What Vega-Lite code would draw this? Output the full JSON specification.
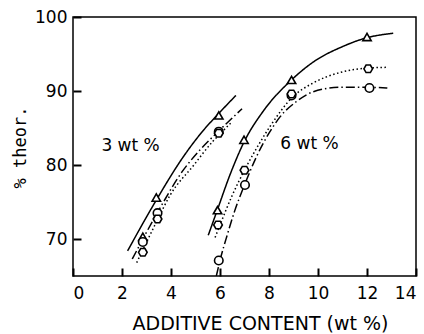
{
  "$schema": "https://vega.github.io/schema/vega-lite/v6.json",
  "width": 343,
  "height": 259,
  "autosize": "none",
  "padding": {"left": 73, "top": 17, "right": 8, "bottom": 58},
  "background": "white",
  "config": {
    "view": {"stroke": "black", "strokeWidth": 1.5},
    "axis": {
      "domain": false,
      "grid": false,
      "labelColor": "black",
      "titleColor": "black",
      "labelFont": "DejaVu Sans",
      "titleFont": "DejaVu Sans",
      "labelFontSize": 17,
      "titleFontWeight": "normal"
    }
  },
  "layer": [
    {
      "data": {
        "values": [
          {"curve": "L-tri", "series": "tri", "x": 2.23, "y": 68.4},
          {"curve": "L-tri", "series": "tri", "x": 2.85, "y": 72.1},
          {"curve": "L-tri", "series": "tri", "x": 3.39, "y": 75.2},
          {"curve": "L-tri", "series": "tri", "x": 4.5, "y": 81.1},
          {"curve": "L-tri", "series": "tri", "x": 5.3, "y": 84.6},
          {"curve": "L-tri", "series": "tri", "x": 5.93, "y": 86.9},
          {"curve": "L-tri", "series": "tri", "x": 6.65, "y": 89.4},
          {"curve": "L-circ", "series": "circ", "x": 2.42, "y": 67.3},
          {"curve": "L-circ", "series": "circ", "x": 3.4, "y": 73.3},
          {"curve": "L-circ", "series": "circ", "x": 4.5, "y": 79.3},
          {"curve": "L-circ", "series": "circ", "x": 5.2, "y": 82.1},
          {"curve": "L-circ", "series": "circ", "x": 5.95, "y": 84.6},
          {"curve": "L-circ", "series": "circ", "x": 6.9, "y": 87.6},
          {"curve": "L-hex", "series": "hex", "x": 2.6, "y": 66.8},
          {"curve": "L-hex", "series": "hex", "x": 3.45, "y": 72.6},
          {"curve": "L-hex", "series": "hex", "x": 3.96, "y": 75.9},
          {"curve": "L-hex", "series": "hex", "x": 4.91, "y": 79.9},
          {"curve": "L-hex", "series": "hex", "x": 5.71, "y": 83.2},
          {"curve": "L-hex", "series": "hex", "x": 6.0, "y": 84.2},
          {"curve": "L-hex", "series": "hex", "x": 6.45, "y": 85.7},
          {"curve": "R-tri", "series": "tri", "x": 5.52, "y": 70.5},
          {"curve": "R-tri", "series": "tri", "x": 5.9, "y": 74.0},
          {"curve": "R-tri", "series": "tri", "x": 6.41, "y": 78.7},
          {"curve": "R-tri", "series": "tri", "x": 6.98, "y": 83.1},
          {"curve": "R-tri", "series": "tri", "x": 7.77, "y": 87.3},
          {"curve": "R-tri", "series": "tri", "x": 8.92, "y": 91.5},
          {"curve": "R-tri", "series": "tri", "x": 9.8, "y": 93.9},
          {"curve": "R-tri", "series": "tri", "x": 11.0, "y": 96.0},
          {"curve": "R-tri", "series": "tri", "x": 12.0, "y": 97.2},
          {"curve": "R-tri", "series": "tri", "x": 13.07, "y": 97.8},
          {"curve": "R-hex", "series": "hex", "x": 5.8, "y": 70.2},
          {"curve": "R-hex", "series": "hex", "x": 6.0, "y": 71.9},
          {"curve": "R-hex", "series": "hex", "x": 6.5, "y": 75.9},
          {"curve": "R-hex", "series": "hex", "x": 7.0, "y": 79.3},
          {"curve": "R-hex", "series": "hex", "x": 7.5, "y": 82.3},
          {"curve": "R-hex", "series": "hex", "x": 8.04, "y": 85.2},
          {"curve": "R-hex", "series": "hex", "x": 9.0, "y": 89.3},
          {"curve": "R-hex", "series": "hex", "x": 9.81, "y": 91.1},
          {"curve": "R-hex", "series": "hex", "x": 10.9, "y": 92.5},
          {"curve": "R-hex", "series": "hex", "x": 12.0, "y": 93.1},
          {"curve": "R-hex", "series": "hex", "x": 12.87, "y": 93.2},
          {"curve": "R-circ", "series": "circ", "x": 5.85, "y": 65.0},
          {"curve": "R-circ", "series": "circ", "x": 6.0, "y": 67.1},
          {"curve": "R-circ", "series": "circ", "x": 6.3, "y": 70.6},
          {"curve": "R-circ", "series": "circ", "x": 6.6, "y": 73.8},
          {"curve": "R-circ", "series": "circ", "x": 7.0, "y": 77.3},
          {"curve": "R-circ", "series": "circ", "x": 7.5, "y": 81.2},
          {"curve": "R-circ", "series": "circ", "x": 8.0, "y": 84.3},
          {"curve": "R-circ", "series": "circ", "x": 8.45, "y": 86.5},
          {"curve": "R-circ", "series": "circ", "x": 9.13, "y": 88.6},
          {"curve": "R-circ", "series": "circ", "x": 9.81, "y": 89.9},
          {"curve": "R-circ", "series": "circ", "x": 10.9, "y": 90.5},
          {"curve": "R-circ", "series": "circ", "x": 12.0, "y": 90.5},
          {"curve": "R-circ", "series": "circ", "x": 12.83, "y": 90.4}
        ]
      },
      "mark": {"type": "line", "interpolate": "monotone", "color": "black", "strokeWidth": 1.5, "clip": true},
      "encoding": {
        "x": {
          "field": "x", "type": "quantitative",
          "scale": {"domain": [0, 14], "nice": false},
          "axis": {
            "orient": "bottom",
            "values": [0, 2, 4, 6, 8, 10, 12, 14],
            "ticks": true,
            "tickColor": "black",
            "tickSize": -8,
            "tickWidth": 2,
            "labelPadding": 17,
            "title": "ADDITIVE CONTENT (wt %)",
            "titleFontSize": 19,
            "titleX": 187,
            "titleY": 47,
            "titleBaseline": "middle",
            "titleAlign": "center"
          }
        },
        "y": {
          "field": "y", "type": "quantitative",
          "scale": {"domain": [65, 100], "nice": false, "zero": false},
          "axis": {
            "orient": "left",
            "values": [70, 80, 90, 100],
            "ticks": true,
            "tickColor": "black",
            "tickSize": -8,
            "tickWidth": 2,
            "labelPadding": 14,
            "title": "% theor.",
            "titleFont": "DejaVu Sans Mono",
            "titleFontSize": 17,
            "titleX": -53,
            "titleY": 130,
            "titleAngle": 270,
            "titleBaseline": "middle",
            "titleAlign": "center"
          }
        },
        "detail": {"field": "curve"},
        "strokeDash": {
          "field": "series", "type": "nominal",
          "scale": {"domain": ["tri", "circ", "hex"], "range": [[1, 0], [9, 3, 1.5, 3], [1.5, 2.5]]},
          "legend": null
        }
      }
    },
    {
      "data": {
        "values": [
          {"series": "tri", "x": 2.85, "y": 70.3},
          {"series": "tri", "x": 3.4, "y": 75.6},
          {"series": "tri", "x": 5.95, "y": 86.7},
          {"series": "tri", "x": 5.9, "y": 73.9},
          {"series": "tri", "x": 6.98, "y": 83.4},
          {"series": "tri", "x": 8.92, "y": 91.5},
          {"series": "tri", "x": 12.0, "y": 97.3},
          {"series": "circ", "x": 2.85, "y": 69.6},
          {"series": "circ", "x": 3.45, "y": 73.5},
          {"series": "circ", "x": 5.95, "y": 84.5},
          {"series": "circ", "x": 5.95, "y": 67.1},
          {"series": "circ", "x": 7.02, "y": 77.3},
          {"series": "circ", "x": 8.92, "y": 89.4},
          {"series": "circ", "x": 12.1, "y": 90.4},
          {"series": "hex", "x": 2.85, "y": 68.2},
          {"series": "hex", "x": 3.45, "y": 72.7},
          {"series": "hex", "x": 5.95, "y": 84.3},
          {"series": "hex", "x": 5.92, "y": 71.9},
          {"series": "hex", "x": 7.0, "y": 79.3},
          {"series": "hex", "x": 8.92, "y": 89.6},
          {"series": "hex", "x": 12.05, "y": 93.0}
        ]
      },
      "mark": {"type": "point", "filled": false, "fill": "white", "fillOpacity": 1, "stroke": "black", "strokeWidth": 1.6, "opacity": 1},
      "encoding": {
        "x": {"field": "x", "type": "quantitative"},
        "y": {"field": "y", "type": "quantitative"},
        "shape": {
          "field": "series", "type": "nominal",
          "scale": {"domain": ["tri", "circ", "hex"], "range": ["triangle-up", "circle", "M-1,0L-0.5,-0.866L0.5,-0.866L1,0L0.5,0.866L-0.5,0.866Z"]},
          "legend": null
        },
        "size": {
          "field": "series", "type": "ordinal",
          "scale": {"domain": ["tri", "circ", "hex"], "range": [70, 75, 110]},
          "legend": null
        }
      }
    },
    {
      "data": {
        "values": [
          {"label": "3 wt %", "x": 2.35, "y": 82.6},
          {"label": "6 wt %", "x": 9.65, "y": 82.9}
        ]
      },
      "mark": {"type": "text", "font": "DejaVu Sans", "fontSize": 17, "color": "black", "align": "center", "baseline": "middle"},
      "encoding": {
        "x": {"field": "x", "type": "quantitative"},
        "y": {"field": "y", "type": "quantitative"},
        "text": {"field": "label"}
      }
    }
  ]
}
